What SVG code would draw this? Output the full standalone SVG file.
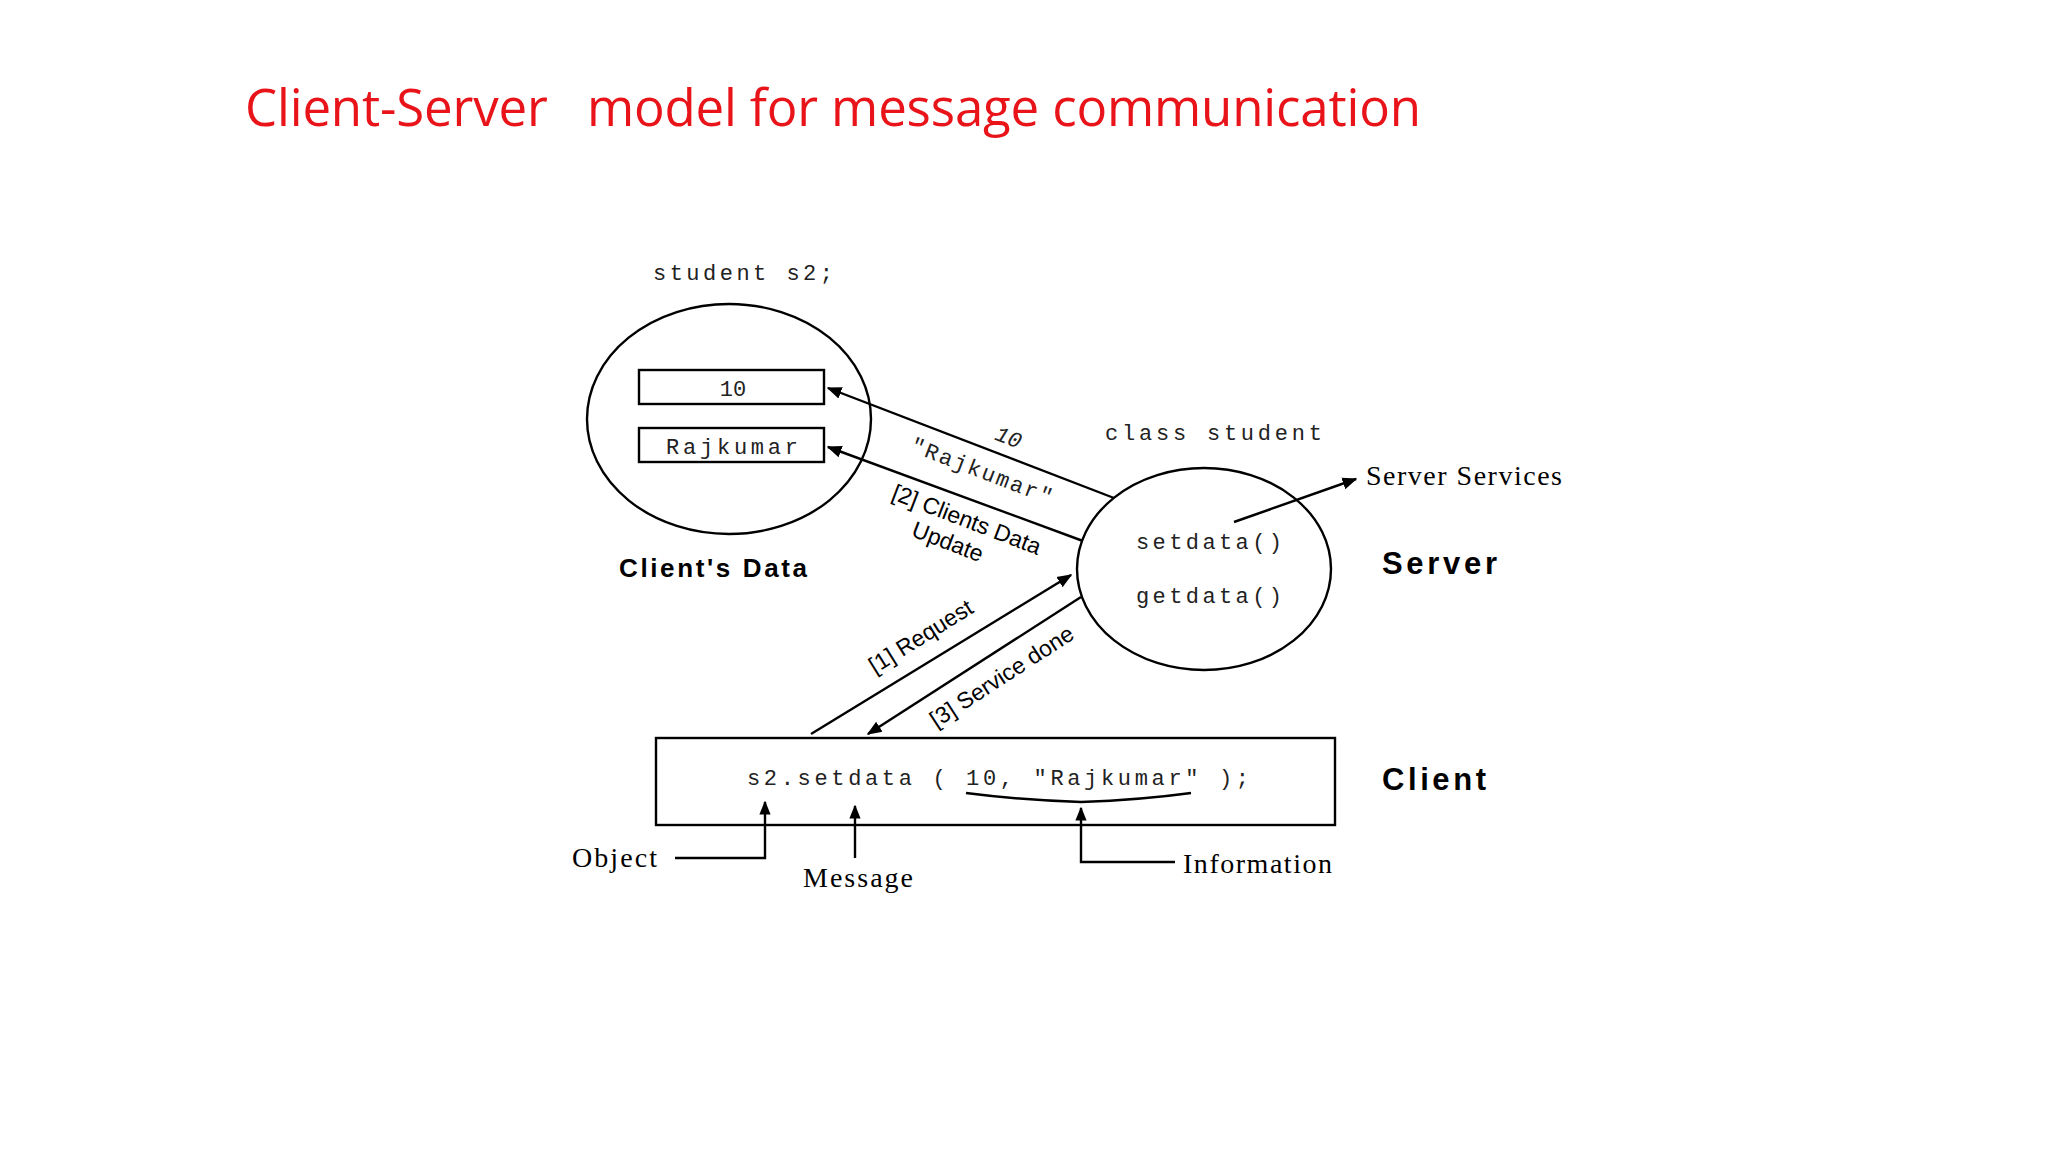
<svg xmlns="http://www.w3.org/2000/svg" width="2048" height="1152" viewBox="0 0 2048 1152">
<defs>
<marker id="ah" viewBox="0 0 10 10" refX="9" refY="5" markerWidth="14" markerHeight="14" markerUnits="userSpaceOnUse" orient="auto"><path d="M0,1 L10,5 L0,9 z" fill="#000"/></marker>
<marker id="ah2" viewBox="0 0 10 10" refX="9" refY="5" markerWidth="15" markerHeight="15" markerUnits="userSpaceOnUse" orient="auto"><path d="M0,1 L10,5 L0,9 z" fill="#000"/></marker>
</defs>
<style>
.ln{stroke:#000;stroke-width:2.4;fill:none}
.mono{font-family:"Liberation Mono",monospace;font-size:22px;fill:#222}
.bold{font-family:"Liberation Sans",Arial,sans-serif;font-weight:bold;fill:#000}
.lbl{font-family:"Liberation Sans",Arial,sans-serif;font-size:23px;fill:#000}
.ser{font-family:"Liberation Serif",serif;font-size:28px;fill:#000}
</style>
<rect width="2048" height="1152" fill="#fff"/>
<text x="245" y="126" font-family="'Open Sans','Liberation Sans',sans-serif" font-size="51" fill="#e8141a" textLength="1176" xml:space="preserve">Client-Server   model for message communication</text>

<g id="clients-data">
<text class="mono" x="653" y="280" textLength="180">student s2;</text>
<ellipse cx="729" cy="419" rx="142" ry="115" class="ln"/>
<rect x="639" y="370" width="185" height="34" class="ln"/>
<text class="mono" x="733" y="396" text-anchor="middle">10</text>
<rect x="639" y="428" width="185" height="34" class="ln"/>
<text class="mono" x="666" y="454" textLength="132">Rajkumar</text>
<text class="bold" x="619" y="577" font-size="26" textLength="188">Client's Data</text>
</g>

<g id="server">
<text class="mono" x="1105" y="440" textLength="217">class student</text>
<ellipse cx="1204" cy="569" rx="127" ry="101" class="ln"/>
<text class="mono" x="1136" y="549" textLength="146">setdata()</text>
<text class="mono" x="1136" y="603" textLength="146">getdata()</text>
<text class="bold" x="1382" y="574" font-size="31" textLength="115">Server</text>
<text class="ser" x="1366" y="485" textLength="196">Server Services</text>
</g>

<g id="client">
<rect x="656" y="738" width="679" height="87" class="ln"/>
<text class="mono" x="747" y="785" textLength="502" xml:space="preserve">s2.setdata ( 10, "Rajkumar" );</text>
<path d="M966,793 Q1020,800 1081,802 Q1140,800 1191,793" class="ln"/>
<text class="bold" x="1382" y="790" font-size="31" textLength="104">Client</text>
<text class="ser" x="572" y="867" textLength="85">Object</text>
<text class="ser" x="803" y="887" textLength="110">Message</text>
<text class="ser" x="1183" y="873" textLength="149">Information</text>
</g>

<g id="connectors">
<line x1="1114" y1="498" x2="828" y2="388" class="ln" marker-end="url(#ah2)"/>
<line x1="1083" y1="541" x2="828" y2="447" class="ln" marker-end="url(#ah2)"/>
<line x1="811" y1="734" x2="1071" y2="575" class="ln" marker-end="url(#ah2)"/>
<line x1="1081" y1="597" x2="868" y2="734" class="ln" marker-end="url(#ah2)"/>
<line x1="1234" y1="522" x2="1356" y2="479" class="ln" marker-end="url(#ah2)"/>
<polyline points="675,858 765,858 765,802" class="ln" marker-end="url(#ah)"/>
<line x1="855" y1="858" x2="855" y2="806" class="ln" marker-end="url(#ah)"/>
<polyline points="1175,862 1081,862 1081,808" class="ln" marker-end="url(#ah)"/>
<text class="mono" x="1006" y="444" font-size="18" fill="#aaa" font-style="italic" transform="rotate(21 1006 444)" text-anchor="middle">10</text>
<text class="mono" x="980" y="478" transform="rotate(21 980 478)" text-anchor="middle" letter-spacing="2">"Rajkumar"</text>
<text class="lbl" x="964" y="527" transform="rotate(21 964 527)" text-anchor="middle">[2] Clients Data</text>
<text class="lbl" x="945" y="549" transform="rotate(21 945 549)" text-anchor="middle">Update</text>
<text class="lbl" x="925" y="643" transform="rotate(-32 925 643)" text-anchor="middle" font-size="25">[1] Request</text>
<text class="lbl" x="1006" y="683" transform="rotate(-33 1006 683)" text-anchor="middle" font-size="25">[3] Service done</text>
</g>
</svg>
